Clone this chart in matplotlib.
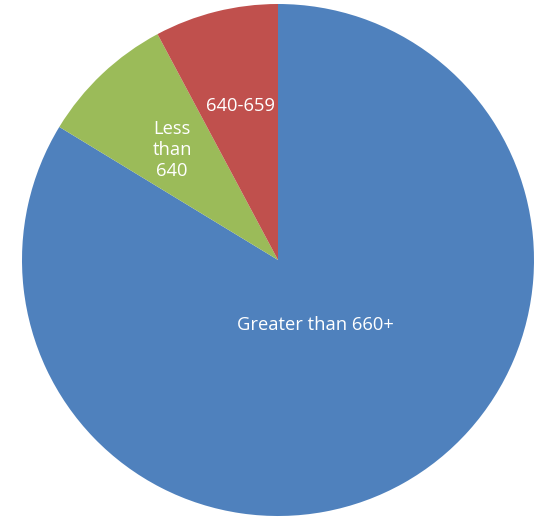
import matplotlib
matplotlib.use("Agg")
import matplotlib.pyplot as plt

# data
categories = ["Greater than 660+", "Less\nthan\n640", "640-659"]
shares = [83.7, 8.5, 7.8]
colors = ["#4F81BD", "#9BBB59", "#C0504D"]
# label spots (pie units, centre = 0, radius = 1)
label_pos = [(0.148, -0.254), (-0.414, 0.43), (-0.148, 0.60)]

plt.rcParams['font.family'] = ['Open Sans', 'DejaVu Sans']

fig = plt.figure(figsize=(5.39, 5.19), dpi=100)
ax = fig.add_axes([22 / 539, 3 / 519, 512 / 539, 512 / 519])

ax.pie(shares, colors=colors, startangle=90, counterclock=False,
       radius=1, wedgeprops=dict(linewidth=0))

for name, (x, y) in zip(categories, label_pos):
    ax.text(x, y, name, ha="center", va="center", color="white",
            fontsize=13.2, linespacing=1.22)

ax.set_xlim(-1, 1)
ax.set_ylim(-1, 1)
ax.set_aspect("auto")
ax.axis("off")

fig.savefig("out.png", dpi=100)
